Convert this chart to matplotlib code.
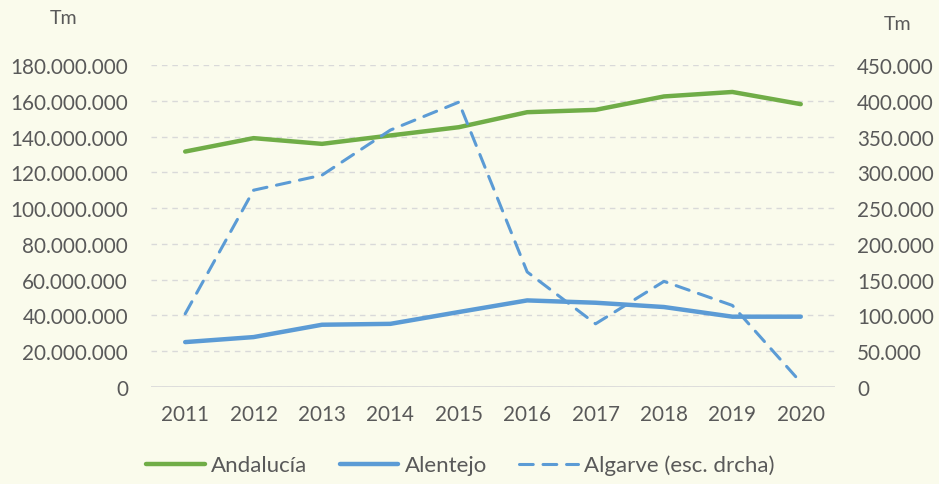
import matplotlib
matplotlib.use("Agg")
import matplotlib.pyplot as plt
from matplotlib.ticker import FuncFormatter, MultipleLocator

years = [2011, 2012, 2013, 2014, 2015, 2016, 2017, 2018, 2019, 2020]
andalucia = [131.6e6, 139.1e6, 135.9e6, 140.6e6, 145.2e6, 153.6e6, 154.9e6, 162.4e6, 164.9e6, 158.1e6]
alentejo = [25.1e6, 27.9e6, 34.8e6, 35.3e6, 41.9e6, 48.4e6, 47.1e6, 44.7e6, 39.3e6, 39.3e6]
algarve = [102.3e3, 275e3, 296e3, 359e3, 398e3, 160.8e3, 88.3e3, 147.6e3, 114e3, 6.5e3]

BG = "#FAFBEC"
TXT = "#595959"
FS = 14.9
plt.rcParams['font.family'] = ['Lato', 'DejaVu Sans']

def dots(v, pos=None):
    return f"{int(round(v)):,}".replace(",", ".")

fig = plt.figure(figsize=(9.39, 4.85), dpi=100, facecolor=BG)
ax = fig.add_axes([0.1608, 0.2, 0.7284, 0.664])
ax.set_facecolor(BG)
ax2 = ax.twinx()

x = list(range(len(years)))
l1, = ax.plot(x, andalucia, color="#70AD47", lw=3.2, solid_capstyle="round", label="Andalucía")
l2, = ax.plot(x, alentejo, color="#5B9BD5", lw=3.2, solid_capstyle="round", label="Alentejo")
l3, = ax2.plot(x, algarve, color="#5B9BD5", lw=2.2, dashes=(4.5, 3.2), dash_capstyle="round", label="Algarve (esc. drcha)")

ax.set_xlim(-0.5, len(years) - 0.5)
ax.set_ylim(0, 180e6)
ax2.set_ylim(0, 450e3)
ax.yaxis.set_major_locator(MultipleLocator(20e6))
ax2.yaxis.set_major_locator(MultipleLocator(50e3))
ax.yaxis.set_major_formatter(FuncFormatter(dots))
ax2.yaxis.set_major_formatter(FuncFormatter(dots))
ax.set_xticks(x)
ax.set_xticklabels([str(y) for y in years])

for a in (ax, ax2):
    for s in a.spines.values():
        s.set_visible(False)
    a.tick_params(length=0, labelsize=FS, colors=TXT)
ax.tick_params(axis='y', pad=16.5)
ax2.tick_params(axis='y', pad=16)
ax.tick_params(axis='x', pad=12)

ax.grid(axis='y', color="#D9D9D9", lw=1, dashes=(4, 3.5))
ax.set_axisbelow(True)
ax.axhline(0, color="#D9D9D9", lw=1.2, zorder=1)

fig.text(64/939, 1 - 19/485, "Tm", ha="center", va="center", fontsize=FS - 0.8, color=TXT)
fig.text(898/939, 1 - 24/485, "Tm", ha="center", va="center", fontsize=FS - 0.8, color=TXT)

fig.legend(handles=[l1, l2, l3], loc="center", bbox_to_anchor=(460.5/939, 1 - 466/485),
           ncol=3, frameon=False, fontsize=16, labelcolor=TXT,
           handlelength=2.65, handletextpad=0.29, columnspacing=1.44)

fig.savefig("out.png", dpi=100, facecolor=BG)
